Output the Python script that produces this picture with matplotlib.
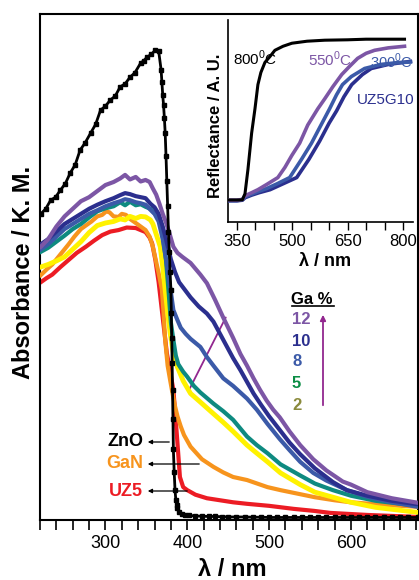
import matplotlib.pyplot as plt
from matplotlib.lines import Line2D
from matplotlib.ticker import MultipleLocator

plt.rcParams['font.family'] = ['Liberation Sans', 'DejaVu Sans']
plt.rcParams['mathtext.fontset'] = 'custom'
plt.rcParams['mathtext.rm'] = 'Liberation Sans'
plt.rcParams['mathtext.bf'] = 'Liberation Sans:bold'

# ---- main panel: K.M. absorbance (arb. units) vs wavelength ----
zno_nm = [221, 227, 233, 239, 245, 251, 257, 263, 269, 275, 282, 288, 294, 300, 306, 312,
          318, 324, 330, 336, 343, 347, 351, 356, 361, 365, 368, 369, 370, 371, 372, 373,
          374, 375, 376, 377, 378, 379, 380, 380.5, 381, 381.5, 382, 382.5, 383, 384, 385,
          386, 387, 388, 390, 393, 397, 402, 410, 418, 426, 434, 442, 450, 460, 470, 480,
          490, 500, 510, 520, 530, 540, 550, 560, 570, 580, 590, 600, 610, 620, 630, 640,
          650, 660, 670, 682]
zno_km = [60.5, 61.5, 63.2, 63.8, 65.2, 66.5, 68.6, 70.2, 73.1, 74.5, 76.5, 78.2, 81.0, 81.8,
          83.0, 83.8, 85.6, 86.2, 87.5, 88.4, 90.3, 90.8, 91.5, 92.0, 92.9, 92.7, 89.0, 86.5,
          84.0, 82.0, 79.5, 76.5, 72.0, 67.0, 62.0, 57.0, 53.0, 49.0, 45.5, 41.0, 36.0, 31.0,
          25.7, 20.0, 14.0, 9.5, 6.0, 4.0, 3.0, 2.3, 1.6, 1.2, 1.0, 0.9, 0.8, 0.75, 0.7, 0.7,
          0.65, 0.6, 0.6, 0.6, 0.55, 0.55, 0.5, 0.5, 0.5, 0.5, 0.5, 0.5, 0.5, 0.5, 0.5, 0.5,
          0.5, 0.5, 0.5, 0.5, 0.5, 0.5, 0.5, 0.5, 0.5]

g12_nm = [221, 230, 240, 250, 260, 270, 280, 290, 300, 310, 318, 324, 330, 337, 343, 349, 354,
          358, 362, 366, 370, 374, 378, 383, 388, 394, 404, 416, 424, 434, 444, 456, 465, 473,
          481, 489, 497, 505, 513, 525, 538, 554, 570, 590, 600, 620, 650, 682]
g12_km = [54.0, 55.5, 58.0, 60.0, 61.5, 63.0, 63.8, 65.0, 66.2, 66.8, 67.5, 68.2, 67.3, 67.8,
          66.9, 67.2, 66.8, 65.5, 64.3, 62.5, 60.5, 58.8, 56.8, 54.0, 52.8, 52.0, 50.8, 48.5,
          46.8, 43.5, 40.0, 36.0, 32.8, 30.5, 28.0, 25.7, 23.6, 21.8, 20.3, 17.5, 14.8, 12.0,
          9.8, 7.6, 7.0, 5.5, 4.3, 3.4]

g10_nm = [221, 230, 240, 250, 260, 270, 280, 290, 300, 310, 318, 324, 330, 337, 343, 349, 355,
          360, 365, 370, 374, 377, 380, 385, 390, 397, 404, 414, 424, 432, 444, 456, 465, 473,
          481, 490, 500, 513, 525, 538, 556, 578, 595, 620, 650, 682]
g10_km = [54.5, 55.5, 57.0, 58.5, 59.5, 60.5, 61.5, 62.3, 63.0, 63.6, 64.2, 64.6, 64.4, 64.0,
          63.8, 63.6, 62.5, 61.8, 60.5, 58.0, 55.5, 53.5, 51.5, 49.0, 47.0, 45.5, 44.0, 42.2,
          40.8, 39.2, 35.6, 32.0, 29.6, 27.3, 25.0, 22.8, 20.5, 17.8, 15.3, 13.0, 10.2, 7.5,
          5.9, 4.8, 3.8, 3.1]

g8_nm = [221, 230, 240, 250, 260, 270, 280, 290, 300, 310, 318, 324, 330, 337, 343, 349, 355,
         360, 365, 370, 374, 377, 380, 383, 388, 392, 398, 404, 416, 424, 432, 444, 456, 473,
         485, 498, 513, 525, 538, 554, 570, 595, 620, 650, 682]
g8_km = [53.5, 54.5, 56.0, 57.5, 58.5, 59.5, 60.5, 61.2, 62.0, 62.6, 63.0, 63.4, 63.2, 62.8,
         62.6, 62.3, 61.3, 60.5, 59.0, 55.5, 51.5, 48.0, 45.0, 41.5, 39.5, 38.0, 36.8, 35.8,
         34.2, 32.2, 30.5, 28.0, 26.5, 24.0, 21.8, 19.0, 16.0, 13.8, 11.5, 9.3, 7.8, 5.9,
         4.6, 3.5, 2.6]

g5_nm = [221, 230, 240, 250, 260, 270, 280, 290, 300, 310, 318, 324, 330, 337, 343, 349, 355,
         360, 365, 369, 371, 374, 377, 380, 383, 386, 389, 395, 400, 408, 416, 432, 444, 456,
         473, 485, 498, 514, 538, 556, 578, 600, 630, 682]
g5_km = [53.0, 53.8, 55.0, 56.2, 57.5, 58.5, 59.8, 61.0, 61.6, 62.0, 62.8, 62.2, 62.9, 62.2,
         62.4, 61.9, 61.5, 60.6, 59.9, 57.0, 55.0, 51.4, 45.5, 39.0, 35.6, 32.5, 30.8, 29.3,
         28.3, 26.5, 25.2, 23.0, 21.5, 19.8, 16.5, 14.8, 13.2, 11.0, 8.8, 7.2, 5.9, 4.8, 3.8,
         2.8]

g2_nm = [221, 230, 240, 250, 260, 270, 280, 290, 300, 310, 318, 324, 330, 337, 343, 349, 355,
         358, 361, 364, 367, 370, 373, 376, 379, 383, 388, 395, 404, 416, 432, 444, 456, 473,
         485, 498, 514, 538, 556, 578, 600, 630, 682]
g2_km = [50.0, 50.5, 51.2, 52.0, 53.5, 55.0, 56.8, 58.2, 58.7, 59.0, 59.5, 59.3, 60.0, 59.6,
         60.0, 59.9, 59.3, 58.5, 57.0, 55.5, 54.0, 50.0, 45.5, 41.0, 37.0, 33.0, 30.2, 27.5,
         25.0, 23.3, 21.0, 19.3, 17.5, 14.8, 13.2, 11.5, 9.3, 7.0, 5.5, 4.5, 3.5, 2.5, 1.5]

gan_nm = [221, 228, 235, 245, 255, 262, 270, 276, 283, 290, 296, 301, 305, 310, 316, 320, 325,
          330, 337, 343, 349, 354, 358, 362, 365, 369, 371, 373, 376, 379, 382, 385, 388, 392,
          396, 404, 418, 432, 444, 456, 473, 498, 514, 535, 556, 580, 600, 640, 682]
gan_km = [48.4, 49.5, 50.5, 52.5, 54.5, 56.0, 57.5, 58.2, 59.0, 60.0, 60.3, 61.0, 60.8, 60.0,
          59.9, 60.5, 60.3, 59.5, 58.7, 58.0, 57.3, 56.0, 54.0, 51.0, 48.8, 45.5, 41.0, 35.6,
          30.5, 27.7, 25.0, 22.5, 20.5, 18.5, 16.8, 14.5, 12.0, 10.5, 9.4, 8.5, 7.9, 6.5, 5.9,
          5.2, 4.5, 3.9, 3.5, 3.0, 2.6]

uz5_nm = [221, 228, 235, 245, 255, 265, 276, 286, 296, 306, 316, 326, 337, 343, 349, 354, 357,
          361, 365, 370, 375, 380, 383, 385, 388, 391, 395, 400, 410, 424, 440, 456, 473, 500,
          530, 555, 575, 620, 682]
uz5_km = [47.0, 47.8, 48.5, 50.0, 51.4, 52.8, 54.0, 55.2, 56.3, 57.0, 57.3, 57.8, 57.7, 57.3,
          56.9, 55.8, 54.7, 51.4, 47.0, 40.0, 33.0, 28.5, 25.7, 21.7, 15.2, 8.5, 6.5, 5.9, 5.0,
          4.3, 3.9, 3.5, 3.2, 2.8, 2.2, 1.8, 1.4, 1.0, 0.6]

# ---- inset: reflectance (arb. units) ----
r800_nm = [326, 340, 355, 365, 372, 376, 380, 385, 390, 393, 399, 407, 415, 426, 440, 453, 475,
           499, 540, 588, 650, 700, 760, 804]
r800 = [0.109, 0.109, 0.109, 0.11, 0.14, 0.20, 0.26, 0.35, 0.44, 0.48, 0.56, 0.68, 0.74, 0.79,
        0.82, 0.85, 0.87, 0.885, 0.895, 0.90, 0.902, 0.905, 0.905, 0.905]

r550_nm = [326, 350, 365, 372, 390, 407, 430, 461, 480, 499, 520, 542, 569, 588, 610, 634, 655,
           677, 700, 723, 760, 804]
r550 = [0.108, 0.108, 0.112, 0.13, 0.145, 0.16, 0.185, 0.22, 0.27, 0.33, 0.39, 0.48, 0.56, 0.61,
        0.67, 0.73, 0.77, 0.81, 0.835, 0.85, 0.862, 0.87]

r300_nm = [326, 350, 365, 372, 390, 407, 430, 460, 493, 525, 552, 575, 601, 620, 636, 660, 696,
           740, 780, 820]
r300 = [0.106, 0.106, 0.11, 0.125, 0.138, 0.15, 0.165, 0.19, 0.22, 0.31, 0.39, 0.47, 0.56, 0.63,
        0.68, 0.72, 0.76, 0.78, 0.788, 0.792]

ruz_nm = [326, 350, 365, 372, 390, 410, 440, 470, 512, 545, 574, 600, 620, 640, 661, 690, 714,
          760, 820]
ruz = [0.105, 0.105, 0.108, 0.12, 0.133, 0.145, 0.16, 0.185, 0.22, 0.31, 0.40, 0.49, 0.55,
       0.62, 0.68, 0.73, 0.76, 0.78, 0.795]

W, H = 419, 580


def px(x, y):
    # pixel position -> figure fraction
    return x / W, 1 - y / H


fig = plt.figure(figsize=(W / 100, H / 100), dpi=100)
ax = fig.add_axes([40 / W, 1 - 520 / H, 378 / W, 506 / H])

lw = 3.0
ax.plot(uz5_nm, uz5_km, color='#ec1c24', lw=lw, zorder=2)
ax.plot(gan_nm, gan_km, color='#f7941d', lw=lw, zorder=3)
ax.plot(g2_nm, g2_km, color='#fff200', lw=lw + 0.5, zorder=4)
ax.plot(g5_nm, g5_km, color='#0e8a80', lw=lw, zorder=5)
ax.plot(g8_nm, g8_km, color='#3b5aa8', lw=lw, zorder=6)
ax.plot(g10_nm, g10_km, color='#2b2f8e', lw=lw, zorder=7)
ax.plot(g12_nm, g12_km, color='#7c56a5', lw=lw, zorder=8)
ax.plot(zno_nm, zno_km, color='black', lw=2.0, marker='s', ms=3.2, zorder=9)

ax.set_xlim(220, 682)
ax.set_ylim(0, 100)
ax.set_yticks([])
ax.xaxis.set_major_locator(MultipleLocator(100))
ax.xaxis.set_minor_locator(MultipleLocator(20))
ax.tick_params(axis='x', which='both', direction='out', length=7, width=1.2,
               labelsize=13, pad=4)
for s in ax.spines.values():
    s.set_linewidth(1.5)

fig.text(*px(24, 272), 'Absorbance / K. M.', rotation=90, ha='center', va='center',
         fontsize=17, fontweight='bold')
fig.text(*px(232, 570), 'λ / nm', ha='center', va='center', fontsize=17, fontweight='bold')

# Ga % legend
fig.text(*px(312, 300), 'Ga %', ha='center', va='center', fontsize=12, fontweight='bold')
fig.add_artist(Line2D([292 / W, 334 / W], [1 - 306 / H, 1 - 306 / H], color='black', lw=1.2))
ga_labels = ['12', '10', '8', '5', '2']
ga_colors = ['#7c56a5', '#2b2f8e', '#3b5aa8', '#0b8d45', '#8a8a3c']
ga_y = [320, 342, 362, 383, 405]
for lab, col, yy in zip(ga_labels, ga_colors, ga_y):
    fig.text(*px(292, yy), lab, ha='left', va='center', fontsize=12,
             fontweight='bold', color=col)
ax.annotate('', xy=px(323, 312), xytext=px(323, 408), xycoords='figure fraction',
            textcoords='figure fraction',
            arrowprops=dict(arrowstyle='-|>', color='#92278f', lw=1.3, mutation_scale=8))
ax.annotate('', xy=px(227, 315), xytext=px(188, 392), xycoords='figure fraction',
            textcoords='figure fraction',
            arrowprops=dict(arrowstyle='-', color='#92278f', lw=1.3))

# sample labels with arrows
for lab, col, yy, xend in [('ZnO', 'black', 442, 172), ('GaN', '#f7941d', 464, 202),
                           ('UZ5', '#ec1c24', 491, 190)]:
    fig.text(*px(143, yy), lab, ha='right', va='center', fontsize=13,
             fontweight='bold', color=col)
    ax.annotate('', xy=px(145, yy), xytext=px(xend, yy), xycoords='figure fraction',
                textcoords='figure fraction',
                arrowprops=dict(arrowstyle='-|>', color='black', lw=0.9, mutation_scale=6))

# ---- inset ----
axi = fig.add_axes([228 / W, 1 - 222 / H, 185 / W, 202 / H])
axi.plot(ruz_nm, ruz, color='#2b2f8e', lw=2.6, zorder=3)
axi.plot(r300_nm, r300, color='#3b5aa8', lw=2.6, zorder=4)
axi.plot(r550_nm, r550, color='#7c56a5', lw=2.6, zorder=5)
axi.plot(r800_nm, r800, color='black', lw=2.2, zorder=6)
axi.set_xlim(326, 827)
axi.set_ylim(0, 1)
axi.set_yticks([])
axi.set_xticks([350, 500, 650, 800])
axi.xaxis.set_minor_locator(MultipleLocator(50))
axi.tick_params(axis='x', which='both', direction='out', length=6, width=1, labelsize=12, pad=3)
axi.spines['top'].set_visible(False)
axi.spines['right'].set_visible(False)
axi.spines['left'].set_linewidth(1.2)
axi.spines['bottom'].set_linewidth(1.2)
axi.patch.set_alpha(0)

fig.text(*px(215, 126), 'Reflectance / A. U.', rotation=90, ha='center', va='center',
         fontsize=12, fontweight='bold')
fig.text(*px(325, 262), 'λ / nm', ha='center', va='center', fontsize=13, fontweight='bold')
fig.text(*px(233, 58), '800$^\\mathregular{0}$C', ha='left', va='center', fontsize=11)
fig.text(*px(308, 59), '550$^\\mathregular{0}$C', ha='left', va='center', fontsize=11,
         color='#7c56a5')
fig.text(*px(370, 61), '300$^\\mathregular{0}$C', ha='left', va='center', fontsize=10.5,
         color='#3b5aa8')
fig.text(*px(357, 100), 'UZ5G10', ha='left', va='center', fontsize=11, color='#2b2f8e')

fig.savefig('out.png', dpi=100)
